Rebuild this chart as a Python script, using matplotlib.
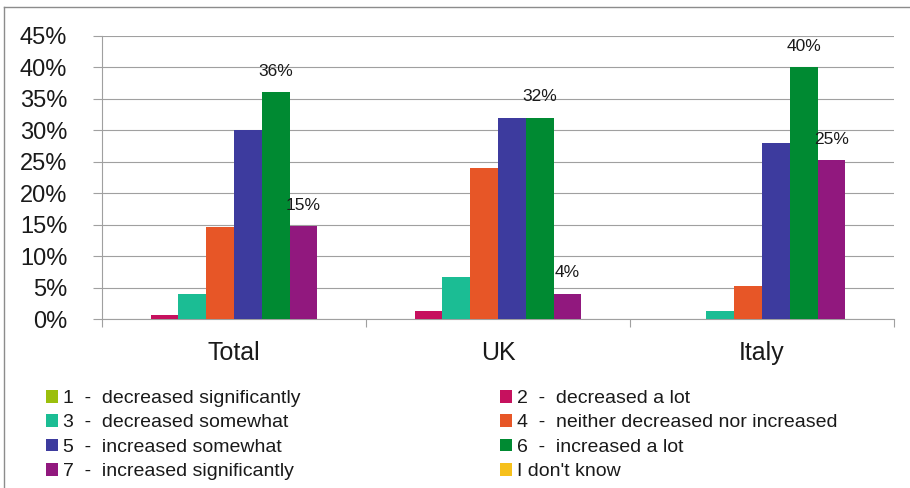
import matplotlib
matplotlib.use("Agg")
import matplotlib.pyplot as plt
import numpy as np
from matplotlib.lines import Line2D
from matplotlib.patches import Patch

plt.rcParams['font.family'] = ['Liberation Sans', 'DejaVu Sans']

categories = ["Total", "UK", "Italy"]
series_labels = [
    "1  -  decreased significantly",
    "2  -  decreased a lot",
    "3  -  decreased somewhat",
    "4  -  neither decreased nor increased",
    "5  -  increased somewhat",
    "6  -  increased a lot",
    "7  -  increased significantly",
    "I don't know",
]
series_colors = ["#9bbf0c", "#c6115e", "#1bbd94", "#e75627",
                 "#3d3b9e", "#008a32", "#91187e", "#f6c01b"]

# percentage of respondents per answer, one list per category
total_vals = [0.0, 0.6, 4.0, 14.6, 30.0, 36.0, 14.7, 0.0]
uk_vals = [0.0, 1.3, 6.6, 24.0, 32.0, 32.0, 4.0, 0.0]
italy_vals = [0.0, 0.0, 1.3, 5.3, 28.0, 40.0, 25.2, 0.0]

labelled_series = [5, 6]  # "increased a lot" and "increased significantly"

values = np.array([total_vals, uk_vals, italy_vals]).T  # series x category

W, H = 910, 488
fig = plt.figure(figsize=(W / 100, H / 100), dpi=100)

ax_left, ax_right, ax_top, ax_bottom = 102, 894, 35.7, 319
ax = fig.add_axes([ax_left / W, 1 - ax_bottom / H,
                   (ax_right - ax_left) / W, (ax_bottom - ax_top) / H])

n = len(series_labels)
bw = 1 / (n + 1.5)
x = np.arange(len(categories))
grid_c = "#a0a0a0"

handles = []
for i in range(n):
    pos = x + (i - (n - 1) / 2) * bw
    ax.bar(pos, values[i], width=bw, color=series_colors[i],
           linewidth=0, zorder=3)
    handles.append(Patch(facecolor=series_colors[i], label=series_labels[i]))
    if i in labelled_series:
        for xp, v in zip(pos, values[i]):
            ax.annotate(f"{v:.0f}%", (xp, v), xytext=(0, 15),
                        textcoords="offset points", ha="center", va="center",
                        fontsize=12.5, color="#1a1a1a", zorder=4)

ax.set_xlim(-0.5, len(categories) - 0.5)
ax.set_ylim(0, 45)
yt = np.arange(0, 46, 5)
ax.set_yticks(yt)
ax.set_yticklabels([f"{v}%" for v in yt])
ax.yaxis.grid(True, color=grid_c, linewidth=0.8, zorder=0)
ax.set_axisbelow(True)

ax.set_xticks(np.arange(-0.5, len(categories)), labels=[""] * (len(categories) + 1))
ax.set_xticks(x, labels=categories, minor=True)
ax.tick_params(axis="x", which="major", length=6, color=grid_c, width=0.8)
ax.tick_params(axis="x", which="minor", length=0, pad=16, labelsize=18,
               labelcolor="#1a1a1a")
ax.tick_params(axis="y", length=6.5, color=grid_c, width=0.8, pad=18.5,
               labelsize=17, labelcolor="#1a1a1a")

for s in ["top", "right"]:
    ax.spines[s].set_visible(False)
for s in ["left", "bottom"]:
    ax.spines[s].set_color(grid_c)
    ax.spines[s].set_linewidth(0.8)

# chart frame (top and left edges)
frame_c = "#8c8c8c"
fig.add_artist(Line2D([4 / W, 1], [1 - 7 / H, 1 - 7 / H], color=frame_c, lw=1.0))
fig.add_artist(Line2D([4 / W, 4 / W], [0, 1 - 7 / H], color=frame_c, lw=1.0))

# two-column legend, read row by row
legend_kw = dict(loc="upper left", frameon=False, fontsize=14,
                 handlelength=0.62, handleheight=0.62, handletextpad=0.26,
                 labelspacing=0.37, borderpad=0, borderaxespad=0)
col1 = [handles[i] for i in (0, 2, 4, 6)]
col2 = [handles[i] for i in (1, 3, 5, 7)]
leg1 = fig.legend(handles=col1, bbox_to_anchor=(46 / W, 1 - 390 / H), **legend_kw)
leg2 = fig.legend(handles=col2, bbox_to_anchor=(500 / W, 1 - 390 / H), **legend_kw)
for leg in (leg1, leg2):
    for t in leg.get_texts():
        t.set_color("#1a1a1a")

fig.savefig("out.png", dpi=100)
